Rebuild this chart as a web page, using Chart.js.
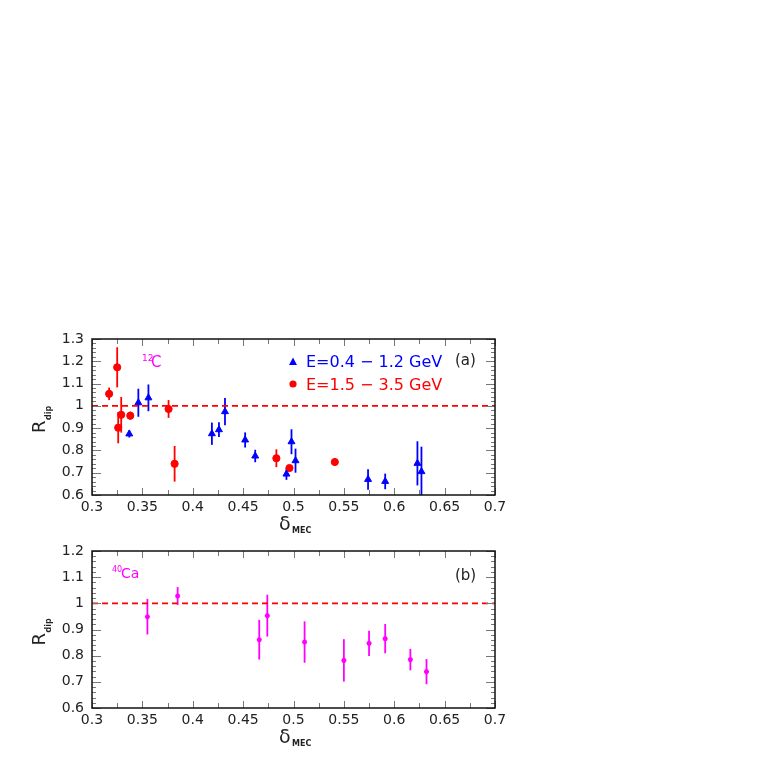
<!DOCTYPE html>
<html>
<head>
<meta charset="utf-8">
<script src="https://cdn.jsdelivr.net/npm/chart.js@4.4.0/dist/chart.umd.min.js"></script>
<style>
html, body { margin: 0; padding: 0; background: #fff; }
body { width: 763px; height: 763px; position: relative; overflow: hidden; }
canvas { position: absolute; left: 0; }
#top { top: 310px; }
#bottom { top: 520px; }
</style>
</head>
<body>
<canvas id="top" width="763" height="230"></canvas>
<canvas id="bottom" width="763" height="243"></canvas>
<script>
// panel (a): 12C, E = 0.4 - 1.2 GeV (blue triangles)
const lowX   = [0.337, 0.346, 0.356, 0.419, 0.426, 0.432, 0.452, 0.462, 0.493, 0.498, 0.502, 0.574, 0.591, 0.623, 0.627];
const lowY   = [0.874, 1.014, 1.036, 0.875, 0.893, 0.974, 0.847, 0.775, 0.694, 0.839, 0.754, 0.670, 0.661, 0.742, 0.705];
const lowErr = [0.016, 0.063, 0.060, 0.050, 0.033, 0.061, 0.034, 0.028, 0.026, 0.056, 0.054, 0.046, 0.035, 0.099, 0.112];

// panel (a): 12C, E = 1.5 - 3.5 GeV (red circles)
const highX   = [0.317, 0.325, 0.326, 0.329, 0.338, 0.376, 0.382, 0.483, 0.496, 0.541];
const highY   = [1.054, 1.173, 0.902, 0.960, 0.956, 0.986, 0.740, 0.765, 0.721, 0.748];
const highErr = [0.028, 0.090, 0.070, 0.080, 0.018, 0.040, 0.080, 0.040, 0.010, 0.015];

// panel (b): 40Ca (magenta)
const caX   = [0.355, 0.385, 0.466, 0.474, 0.511, 0.550, 0.575, 0.591, 0.616, 0.632];
const caY   = [0.949, 1.028, 0.861, 0.953, 0.852, 0.782, 0.847, 0.865, 0.785, 0.739];
const caErr = [0.068, 0.034, 0.076, 0.080, 0.079, 0.081, 0.048, 0.056, 0.041, 0.048];

const xRange = [0.3, 0.7];
const topYRange = [0.6, 1.3];
const bottomYRange = [0.6, 1.2];

const FONT = 'DejaVu Sans';
const BLUE = '#0000ff';
const RED = '#ff0000';
const MAGENTA = '#ff00ff';

function points(xs, ys) {
    return xs.map((x, i) => ({ x: x, y: ys[i] }));
}

function refLine() {
    return {
        type: 'line',
        data: [{ x: xRange[0], y: 1 }, { x: xRange[1], y: 1 }],
        borderColor: RED,
        borderWidth: 1.6,
        borderDash: [6, 4],
        pointRadius: 0,
        showLine: true,
        fill: false
    };
}

// vertical error bars, drawn under the markers
const errorBars = {
    id: 'errorBars',
    beforeDatasetsDraw(chart) {
        const { ctx, chartArea: a, scales: { x, y } } = chart;
        ctx.save();
        ctx.beginPath();
        ctx.rect(a.left, a.top, a.right - a.left, a.bottom - a.top);
        ctx.clip();
        chart.data.datasets.forEach(ds => {
            if (!ds.err) return;
            ctx.strokeStyle = ds.borderColor;
            ctx.lineWidth = 1.8;
            ds.data.forEach((p, i) => {
                const px = x.getPixelForValue(p.x);
                ctx.beginPath();
                ctx.moveTo(px, y.getPixelForValue(p.y - ds.err[i]));
                ctx.lineTo(px, y.getPixelForValue(p.y + ds.err[i]));
                ctx.stroke();
            });
        });
        ctx.restore();
    }
};

// box frame with inward ticks on all four sides
const frameTicks = {
    id: 'frameTicks',
    afterDraw(chart) {
        const { ctx, chartArea: a, scales: { x, y } } = chart;
        ctx.save();
        ctx.strokeStyle = '#777';
        ctx.lineWidth = 1;
        ctx.beginPath();
        for (let i = 0; i <= 16; i++) {
            const px = Math.round(x.getPixelForValue(xRange[0] + i * 0.025)) + 0.5;
            const len = i % 2 === 0 ? 7 : 5;
            ctx.moveTo(px, a.bottom); ctx.lineTo(px, a.bottom - len);
            ctx.moveTo(px, a.top); ctx.lineTo(px, a.top + len);
        }
        const n = Math.round((y.max - y.min) / 0.02);
        for (let i = 0; i <= n; i++) {
            const py = Math.round(y.getPixelForValue(y.min + i * 0.02)) + 0.5;
            const len = i % 5 === 0 ? 9 : 4;
            ctx.moveTo(a.left, py); ctx.lineTo(a.left + len, py);
            ctx.moveTo(a.right, py); ctx.lineTo(a.right - len, py);
        }
        ctx.stroke();
        ctx.strokeStyle = '#111';
        ctx.lineWidth = 1.5;
        ctx.strokeRect(a.left, a.top, a.right - a.left, a.bottom - a.top);
        ctx.restore();
    }
};

// axis titles with subscripts
function axisTitles(ctx, a) {
    ctx.save();
    ctx.fillStyle = '#222';
    ctx.textBaseline = 'alphabetic';
    // R_dip, rotated
    const ry = (a.top + a.bottom) / 2 + 4;
    ctx.translate(45, ry + 12);
    ctx.rotate(-Math.PI / 2);
    ctx.font = '18px ' + FONT;
    ctx.textAlign = 'left';
    ctx.fillText('R', 0, 0);
    ctx.font = 'bold 8px ' + FONT;
    ctx.fillText('dip', 13, 6);
    ctx.restore();
    // delta_MEC
    ctx.save();
    ctx.fillStyle = '#222';
    ctx.font = '19px ' + FONT;
    ctx.fillText('\u03b4', 279, a.bottom + 35);
    ctx.font = 'bold 8px ' + FONT;
    ctx.fillText('MEC', 292, a.bottom + 38);
    ctx.restore();
}

function panelOptions(yRange, padTop, padBottom) {
    const fmt = v => String(+(+v).toFixed(2));
    return {
        responsive: false,
        animation: false,
        devicePixelRatio: 1,
        layout: { padding: { left: 0, right: 268, top: padTop, bottom: padBottom } },
        plugins: { legend: { display: false }, tooltip: { enabled: false } },
        scales: {
            x: {
                type: 'linear',
                min: xRange[0], max: xRange[1],
                grid: { display: false, drawTicks: false },
                border: { display: false },
                ticks: { stepSize: 0.05, autoSkip: false, maxRotation: 0, padding: 4,
                         color: '#222', font: { family: FONT, size: 14 }, callback: fmt },
                afterFit(s) { s.height = 30; }
            },
            y: {
                type: 'linear',
                min: yRange[0], max: yRange[1],
                grid: { display: false, drawTicks: false },
                border: { display: false },
                ticks: { stepSize: 0.1, padding: 8,
                         color: '#222', font: { family: FONT, size: 14 }, callback: fmt },
                afterFit(s) { s.width = 92; }
            }
        }
    };
}

// top panel: chart area 339..495 on the page
new Chart(document.getElementById('top'), {
    type: 'scatter',
    data: {
        datasets: [
            refLine(),
            { data: points(lowX, lowY), err: lowErr, pointStyle: 'triangle', pointRadius: 4,
              backgroundColor: BLUE, borderColor: BLUE, borderWidth: 1 },
            { data: points(highX, highY), err: highErr, pointStyle: 'circle', pointRadius: 3.6,
              backgroundColor: RED, borderColor: RED, borderWidth: 1 }
        ]
    },
    options: panelOptions(topYRange, 29, 15),
    plugins: [errorBars, frameTicks, {
        id: 'topText',
        afterDraw(chart) {
            const ctx = chart.ctx, a = chart.chartArea;
            axisTitles(ctx, a);
            ctx.save();
            ctx.textBaseline = 'alphabetic';
            // legend
            ctx.fillStyle = BLUE;
            ctx.beginPath();
            ctx.moveTo(293, 47.5); ctx.lineTo(289, 55); ctx.lineTo(297, 55); ctx.closePath();
            ctx.fill();
            ctx.font = '16px ' + FONT;
            ctx.fillText('E=0.4 \u2212 1.2 GeV', 306, 57);
            ctx.fillStyle = RED;
            ctx.beginPath(); ctx.arc(293, 74, 3.6, 0, Math.PI * 2); ctx.fill();
            ctx.fillText('E=1.5 \u2212 3.5 GeV', 306, 80);
            // panel tag
            ctx.fillStyle = '#222';
            ctx.font = '15px ' + FONT;
            ctx.fillText('(a)', 455, 55);
            // nucleus
            ctx.fillStyle = MAGENTA;
            ctx.font = '9px ' + FONT;
            ctx.fillText('12', 142, 51);
            ctx.font = '15px ' + FONT;
            ctx.fillText('C', 151, 57);
            ctx.restore();
        }
    }]
});

// bottom panel: chart area 551..708 on the page
new Chart(document.getElementById('bottom'), {
    type: 'scatter',
    data: {
        datasets: [
            refLine(),
            { data: points(caX, caY), err: caErr, pointStyle: 'star', pointRadius: 2.5,
              backgroundColor: MAGENTA, borderColor: MAGENTA, borderWidth: 1.5 }
        ]
    },
    options: panelOptions(bottomYRange, 31, 25),
    plugins: [errorBars, frameTicks, {
        id: 'bottomText',
        afterDraw(chart) {
            const ctx = chart.ctx, a = chart.chartArea;
            axisTitles(ctx, a);
            ctx.save();
            ctx.textBaseline = 'alphabetic';
            ctx.fillStyle = '#222';
            ctx.font = '15px ' + FONT;
            ctx.fillText('(b)', 455, a.top + 29);
            ctx.fillStyle = MAGENTA;
            ctx.font = '8px ' + FONT;
            ctx.fillText('40', 112, a.top + 21);
            ctx.font = '14px ' + FONT;
            ctx.fillText('Ca', 121, a.top + 27);
            ctx.restore();
        }
    }]
});
</script>
</body>
</html>
